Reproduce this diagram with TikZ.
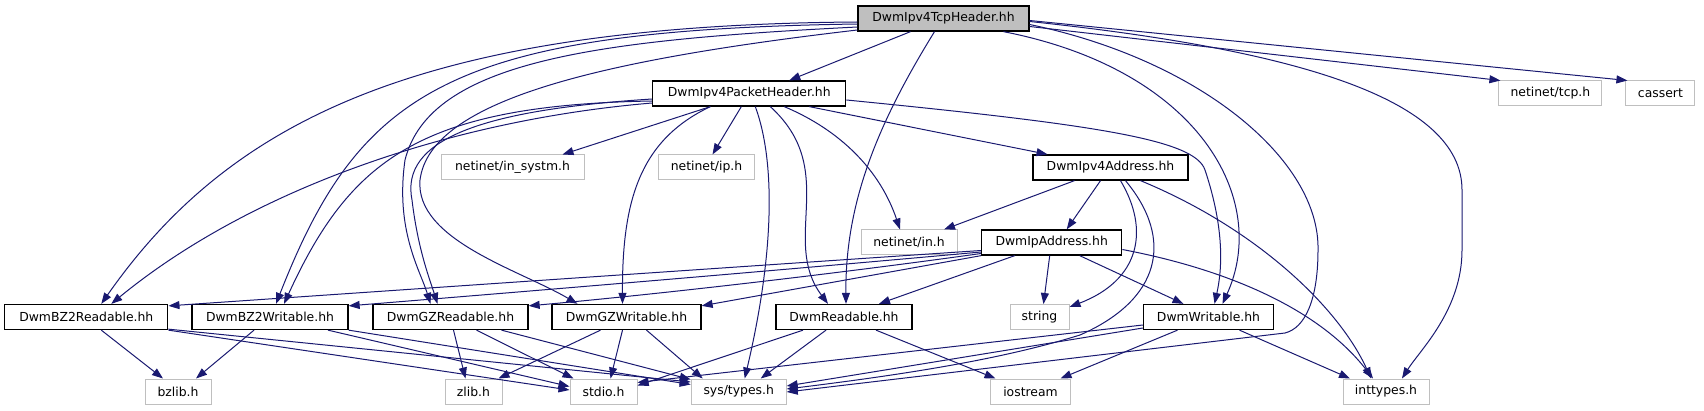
\documentclass[tikz,border=0pt]{standalone}
\usepackage{fontspec}
\setmainfont{DejaVu Sans}
\usepackage{tikz}
\usepackage{xcolor}
\usetikzlibrary{arrows.meta, positioning, calc}
\definecolor{mblue}{RGB}{25,25,112}
\definecolor{hgray}{RGB}{191,191,191}

\begin{document}
\begin{tikzpicture}[x=1pt, y=-1pt,
  hdr/.style={draw=black, line width=1.3pt, minimum height=25pt, inner sep=1pt, font=\fontsize{12.4}{14}\selectfont},
  sys/.style={draw=hgray, line width=1pt, minimum height=25pt, inner sep=1pt, font=\fontsize{12.4}{14}\selectfont},
  dep/.style={draw=mblue, line width=1pt, -{Triangle[length=11pt,width=8pt]}}]
\useasboundingbox (0,0) rectangle (1704,411);

% Top header
\node[hdr, fill=hgray, minimum width=171pt] (tcphdr) at (943.5,18.5) {DwmIpv4TcpHeader.hh};

% Second row
\node[hdr, minimum width=193pt] (pkthdr) at (749.3,93.5) {DwmIpv4PacketHeader.hh};
\node[sys, minimum width=103pt] (tcph) at (1550.4,93.5) {netinet/tcp.h};
\node[sys, minimum width=69pt] (cassert) at (1660.4,93.5) {cassert};

% Third row
\node[sys, minimum width=143pt] (insystm) at (512.5,167.5) {netinet/in\_systm.h};
\node[sys, minimum width=96pt] (iph) at (706.5,167.5) {netinet/ip.h};
\node[hdr, minimum width=155pt] (v4addr) at (1110.5,167.5) {DwmIpv4Address.hh};

% Fourth row
\node[sys, minimum width=96pt] (inh) at (909,242.5) {netinet/in.h};
\node[hdr, minimum width=140pt] (ipaddr) at (1051.7,242.5) {DwmIpAddress.hh};

% Readers and writers
\node[hdr, minimum width=163pt] (bzr) at (86.3,317) {DwmBZ2Readable.hh};
\node[hdr, minimum width=156pt] (bzw) at (270,317) {DwmBZ2Writable.hh};
\node[hdr, minimum width=155pt] (gzr) at (450.5,317) {DwmGZReadable.hh};
\node[hdr, minimum width=149pt] (gzw) at (626.5,317) {DwmGZWritable.hh};
\node[hdr, minimum width=136pt] (rdbl) at (844,317) {DwmReadable.hh};
\node[sys, minimum width=59pt] (strg) at (1039.5,317) {string};
\node[hdr, minimum width=130pt] (wrtbl) at (1208.5,317) {DwmWritable.hh};

% System headers
\node[sys, minimum width=66pt] (bzlib) at (178,391.5) {bzlib.h};
\node[sys, minimum width=57pt] (zlib) at (473.5,391.5) {zlib.h};
\node[sys, minimum width=67pt] (stdio) at (603.5,391.5) {stdio.h};
\node[sys, minimum width=95pt] (systypes) at (738.7,391.5) {sys/types.h};
\node[sys, minimum width=80pt] (iostrm) at (1030.5,391.5) {iostream};
\node[sys, minimum width=86pt] (inttyp) at (1386,391.5) {inttypes.h};

% From DwmIpv4TcpHeader.hh
\draw[dep] ([yshift=-3.5pt]tcphdr.west) .. controls (420,25) and (230,120) .. ([xshift=15pt]bzr.north);
\draw[dep] ([yshift=-5.5pt]tcphdr.west) .. controls (450,30) and (360,90) .. ([xshift=6pt]bzw.north);
\draw[dep] ([yshift=-8.5pt]tcphdr.west) .. controls (600,40) and (430,60) .. (405,160)
  .. controls (395,230) and (420,270) .. ([xshift=-20pt]gzr.north);
\draw[dep] ([yshift=-11.5pt]tcphdr.west) .. controls (600,60) and (430,100) .. (420,180)
  .. controls (415,240) and (520,270) .. ([xshift=-49pt]gzw.north);
\draw[dep] ([xshift=-33pt]tcphdr.south) -- ([xshift=40pt]pkthdr.north);
\draw[dep] ([xshift=-9pt]tcphdr.south) .. controls (880,120) and (845,200) .. ([xshift=2pt]rdbl.north);
\draw[dep] ([xshift=60pt]tcphdr.south) .. controls (1200,70) and (1270,200) .. ([xshift=14pt]wrtbl.north);
\draw[dep] ([yshift=-6pt]tcphdr.east) .. controls (1200,60) and (1320,160) .. (1318,250)
  .. controls (1318,300) and (1305,328) .. (1285,333) -- ([yshift=-0.5pt]systypes.east);
\draw[dep] ([yshift=-3pt]tcphdr.east) .. controls (1300,50) and (1462,100) .. (1462,190) -- (1462,250)
  .. controls (1462,310) and (1420,350) .. ([xshift=16pt]inttyp.north);
\draw[dep] ([yshift=-8pt]tcphdr.east) -- ([xshift=2pt]tcph.north west);
\draw[dep] ([yshift=-2pt]tcphdr.east) -- ([xshift=2pt]cassert.north west);

% From DwmIpv4PacketHeader.hh
\draw[dep] ([xshift=-39pt]pkthdr.south) -- ([xshift=50pt]insystm.north);
\draw[dep] ([xshift=-8pt]pkthdr.south) -- ([xshift=6pt]iph.north);
\draw[dep] ([xshift=-39pt]pkthdr.south) .. controls (640,140) and (622,200) .. ([xshift=-4pt]gzw.north);
\draw[dep] ([xshift=6pt]pkthdr.south) .. controls (775,160) and (775,250) .. ([xshift=6pt]systypes.north);
\draw[dep] ([xshift=21pt]pkthdr.south) .. controls (840,170) and (780,240) .. ([xshift=-16pt]rdbl.north);
\draw[dep] ([xshift=35pt]pkthdr.south) .. controls (840,130) and (880,170) .. ([xshift=-9pt]inh.north);
\draw[dep] ([xshift=60pt]pkthdr.south) -- ([xshift=-63pt]v4addr.north);
\draw[dep] ([yshift=-6.5pt]pkthdr.east) .. controls (1100,125) and (1195,140) .. (1205,170)
  .. controls (1225,230) and (1222,270) .. ([xshift=6pt]wrtbl.north);
\draw[dep] ([yshift=-9.5pt]pkthdr.west) .. controls (450,120) and (250,190) .. ([xshift=25pt]bzr.north);
\draw[dep] ([yshift=-7.5pt]pkthdr.west) .. controls (420,105) and (350,160) .. ([xshift=14pt]bzw.north);
\draw[dep] ([yshift=-5.5pt]pkthdr.west) .. controls (480,110) and (400,140) .. (412,200)
  .. controls (418,250) and (430,280) .. ([xshift=-13pt]gzr.north);

% From DwmIpv4Address.hh
\draw[dep] ([xshift=-36pt]v4addr.south) -- ([xshift=35pt]inh.north);
\draw[dep] ([xshift=-10pt]v4addr.south) -- ([xshift=15pt]ipaddr.north);
\draw[dep] ([xshift=10pt]v4addr.south) .. controls (1150,230) and (1140,280) .. ([yshift=-3pt]strg.north east);
\draw[dep] ([xshift=15pt]v4addr.south) .. controls (1175,240) and (1160,300) .. (1080,335)
  .. controls (1000,360) and (900,375) .. ([yshift=2.5pt]systypes.east);
\draw[dep] ([xshift=30pt]v4addr.south) .. controls (1260,230) and (1340,310) .. ([xshift=-15pt]inttyp.north);

% From DwmIpAddress.hh
\draw[dep] ([yshift=-8pt]ipaddr.west) .. controls (720,268) and (400,290) .. ([yshift=-2pt]bzr.north east);
\draw[dep] ([yshift=-9.5pt]ipaddr.west) .. controls (760,272) and (520,292) .. ([yshift=-2pt]bzw.north east);
\draw[dep] ([yshift=-11pt]ipaddr.west) .. controls (820,276) and (640,296) .. ([yshift=-2pt]gzr.north east);
\draw[dep] (ipaddr.south west) -- ([yshift=-2pt]gzw.north east);
\draw[dep] ([xshift=-37pt]ipaddr.south) -- ([xshift=35pt]rdbl.north);
\draw[dep] ([xshift=-2pt]ipaddr.south) -- ([xshift=4pt]strg.north);
\draw[dep] ([xshift=28pt]ipaddr.south) -- ([xshift=-25pt]wrtbl.north);
\draw[dep] ([yshift=-7pt]ipaddr.east) .. controls (1230,270) and (1320,310) .. ([xshift=-13pt]inttyp.north);

% From the readers and writers
\draw[dep] ([xshift=15pt]bzr.south) -- ([xshift=-15pt]bzlib.north);
\draw[dep] (bzr.south east) -- ([yshift=1.5pt]stdio.west);
\draw[dep] ([yshift=1pt]bzr.south east) -- ([yshift=9.5pt]systypes.west);
\draw[dep] ([xshift=-16pt]bzw.south) -- ([xshift=18pt]bzlib.north);
\draw[dep] ([xshift=58pt]bzw.south) -- ([yshift=5pt]stdio.west);
\draw[dep] (bzw.south east) -- ([yshift=7pt]systypes.west);
\draw[dep] ([xshift=3pt]gzr.south) -- ([xshift=-8pt]zlib.north);
\draw[dep] ([xshift=26pt]gzr.south) -- ([xshift=4pt]stdio.north west);
\draw[dep] ([xshift=51pt]gzr.south) -- ([yshift=-1pt]systypes.north west);
\draw[dep] ([xshift=-26pt]gzw.south) -- ([xshift=-4pt]zlib.north east);
\draw[dep] ([xshift=-4pt]gzw.south) -- ([xshift=7pt]stdio.north);
\draw[dep] ([xshift=20pt]gzw.south) -- ([xshift=-36pt]systypes.north);
\draw[dep] ([xshift=-41pt]rdbl.south) -- ([yshift=6pt]stdio.east);
\draw[dep] ([xshift=-18pt]rdbl.south) -- ([xshift=22pt]systypes.north);
\draw[dep] ([xshift=32pt]rdbl.south) -- ([xshift=-35pt]iostrm.north);
\draw[dep] ([yshift=-8pt]wrtbl.west) -- ([yshift=9pt]stdio.east);
\draw[dep] ([yshift=-11pt]wrtbl.west) -- ([yshift=5.5pt]systypes.east);
\draw[dep] ([xshift=-31pt]wrtbl.south) -- ([xshift=30pt]iostrm.north);
\draw[dep] ([xshift=31pt]wrtbl.south) -- ([xshift=-36pt]inttyp.north);
\end{tikzpicture}
\end{document}
